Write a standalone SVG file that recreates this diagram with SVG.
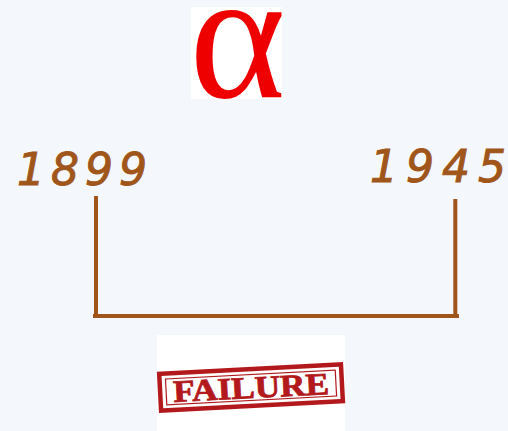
<svg xmlns="http://www.w3.org/2000/svg" width="508" height="431" viewBox="0 0 508 431">
<style>
.yr{font-family:"DejaVu Sans","Liberation Sans",sans-serif;font-size:44px;fill:#a0561a;stroke:#a0561a;stroke-width:1;font-style:italic}
.br{stroke:#a0561a;stroke-width:4;fill:none;stroke-linecap:butt}
.stamp{fill:none;stroke:#b3191c}
</style>
<rect width="508" height="431" fill="#f4f8fc"/>
<g id="alpha">
<rect x="191" y="7" width="91" height="92" fill="#ffffff"/>
<text x="237.5" y="97" text-anchor="middle" font-family="Liberation Serif,serif" font-size="184" fill="#ee0000">α</text>
</g>
<g id="year-1899">
<text class="yr" x="17" y="185" textLength="130" lengthAdjust="spacing">1899</text>
</g>
<g id="year-1945">
<text class="yr" x="370" y="182" textLength="136" lengthAdjust="spacing">1945</text>
</g>
<g id="connectors">
<path class="br" d="M96 196 V316 M93 316 H459 M455.3 199 V316"/>
</g>
<g id="failure">
<rect x="157" y="335" width="188" height="96" fill="#ffffff"/>
<g transform="rotate(-3 251 387)">
<rect class="stamp" x="160" y="369" width="182" height="37" stroke-width="4.5"/>
<rect class="stamp" x="166" y="374.5" width="170" height="26" stroke-width="1.2"/>
<text x="251" y="398" text-anchor="middle" font-family="Liberation Serif,serif" font-weight="bold" font-size="31" fill="#b3191c" stroke="#b3191c" stroke-width="0.8" textLength="156" lengthAdjust="spacingAndGlyphs">FAILURE</text>
</g>
</g>
</svg>
